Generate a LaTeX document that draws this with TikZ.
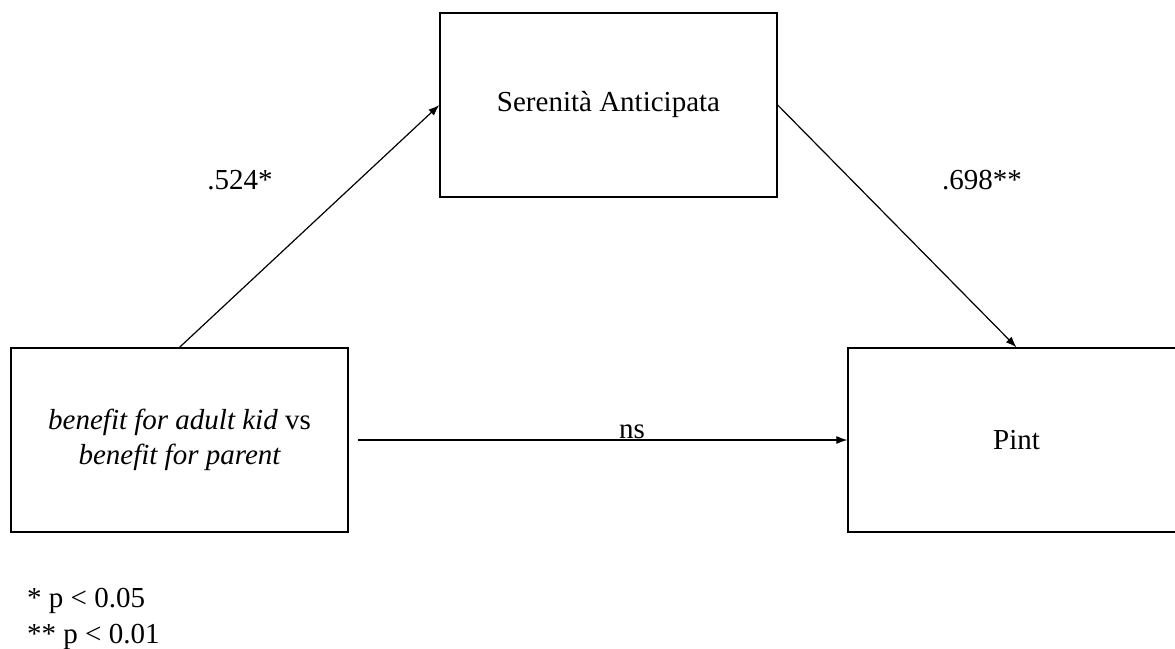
\documentclass[tikz,border=0pt]{standalone}
\usepackage{fontspec}
\setmainfont{Liberation Serif}
\usetikzlibrary{arrows.meta}
\begin{document}
\begin{tikzpicture}[x=1pt,y=-1pt,
  box/.style={draw=black,line width=1.3pt,minimum width=337pt,minimum height=184pt,inner sep=0pt,align=center,font=\fontsize{29}{35}\selectfont},
  lbl/.style={anchor=base,inner sep=0pt,font=\fontsize{29}{35}\selectfont},
  arr/.style={line width=1.2pt,-{Latex[length=11pt,width=8pt]}}]
\useasboundingbox (0,0) rectangle (1175,648);
\node[box] (L) at (179.5,440) {\itshape benefit for adult kid\upshape{} vs\\\itshape benefit for parent};
\node[box] (T) at (608.5,105) {Serenità Anticipata};
\node[box] (R) at (1016.5,440) {Pint};
\coordinate (S) at (358,440);
\draw[arr] (L.north) -- (T.west);
\draw[arr] (T.east) -- (R.north);
\draw[arr] (S) -- (R.west);
\node[lbl] (a) at (240,189) {.524*};
\node[lbl] (b) at (982,189) {.698**};
\node[lbl] (ns) at (632,438) {ns};
\node[lbl,anchor=base west] (f1) at (27,607) {* p < 0.05};
\node[lbl,anchor=base west] (f2) at (27,643) {** p < 0.01};
\end{tikzpicture}
\end{document}
